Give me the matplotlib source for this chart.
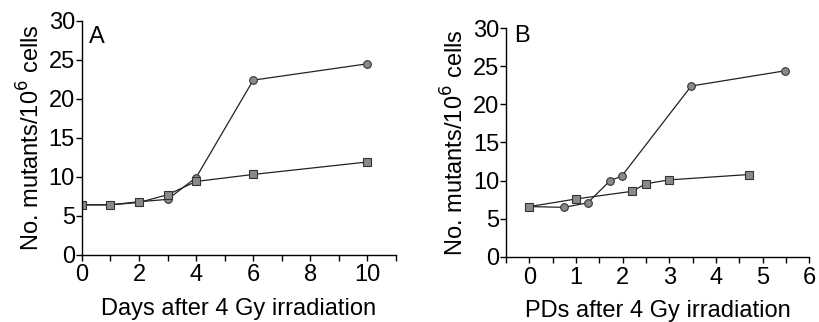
import matplotlib
matplotlib.use("Agg")
import matplotlib.pyplot as plt
from matplotlib.ticker import MultipleLocator

plt.rcParams['font.family'] = ['Liberation Sans', 'DejaVu Sans']

# Panel A: days after irradiation
a_circ_x = [0, 1, 2, 3, 4, 6, 10]
a_circ_y = [6.4, 6.4, 6.8, 7.1, 9.9, 22.4, 24.5]
a_sq_x = [0, 1, 2, 3, 4, 6, 10]
a_sq_y = [6.4, 6.4, 6.7, 7.7, 9.4, 10.3, 11.9]

# Panel B: population doublings after irradiation
b_circ_x = [0, 0.75, 1.25, 1.73, 1.98, 3.47, 5.49]
b_circ_y = [6.6, 6.5, 7.1, 10.0, 10.6, 22.4, 24.4]
b_sq_x = [0, 1.0, 2.2, 2.5, 3.0, 4.7]
b_sq_y = [6.6, 7.6, 8.6, 9.6, 10.1, 10.8]

ylabel = "No. mutants/10$^{6}$ cells"
xlabel_a = "Days after 4 Gy irradiation"
xlabel_b = "PDs after 4 Gy irradiation"

fig = plt.figure(figsize=(8.19, 3.22), dpi=100)
axA = fig.add_axes([0.100, 0.209, 0.3835, 0.726])
axB = fig.add_axes([0.618, 0.202, 0.370, 0.711])

mk = dict(color='#222222', lw=0.9, markersize=5.5, markerfacecolor='#8a8a8a',
          markeredgecolor='#333333', markeredgewidth=0.8)

axA.plot(a_circ_x, a_circ_y, marker='o', **mk)
axA.plot(a_sq_x, a_sq_y, marker='s', **mk)
axB.plot(b_circ_x, b_circ_y, marker='o', **mk)
axB.plot(b_sq_x, b_sq_y, marker='s', **mk)

for ax in (axA, axB):
    for s in ('top', 'right'):
        ax.spines[s].set_visible(False)
    for s in ('left', 'bottom'):
        ax.spines[s].set_linewidth(1.0)
    ax.set_ylim(0, 30)
    ax.yaxis.set_major_locator(MultipleLocator(5))
    ax.tick_params(axis='both', which='major', direction='out', length=4, width=1,
                   labelsize=17, pad=1)
    ax.tick_params(axis='x', which='major', pad=3)
    ax.tick_params(axis='x', which='minor', direction='out', length=4, width=1)
    ax.set_ylabel(ylabel, fontsize=17, labelpad=3)

axA.set_xlim(0, 11)
axA.xaxis.set_major_locator(MultipleLocator(2))
axA.xaxis.set_minor_locator(MultipleLocator(1))
axA.set_xlabel(xlabel_a, fontsize=17, labelpad=8)
axA.text(0.25, 27.9, "A", fontsize=17, va='center', ha='left')

axB.set_xlim(-0.5, 6)
axB.xaxis.set_major_locator(MultipleLocator(1))
axB.xaxis.set_minor_locator(MultipleLocator(0.5))
axB.set_xlabel(xlabel_b, fontsize=17, labelpad=8)
axB.text(-0.33, 29.0, "B", fontsize=17, va='center', ha='left')

fig.savefig("out.png", dpi=100)
